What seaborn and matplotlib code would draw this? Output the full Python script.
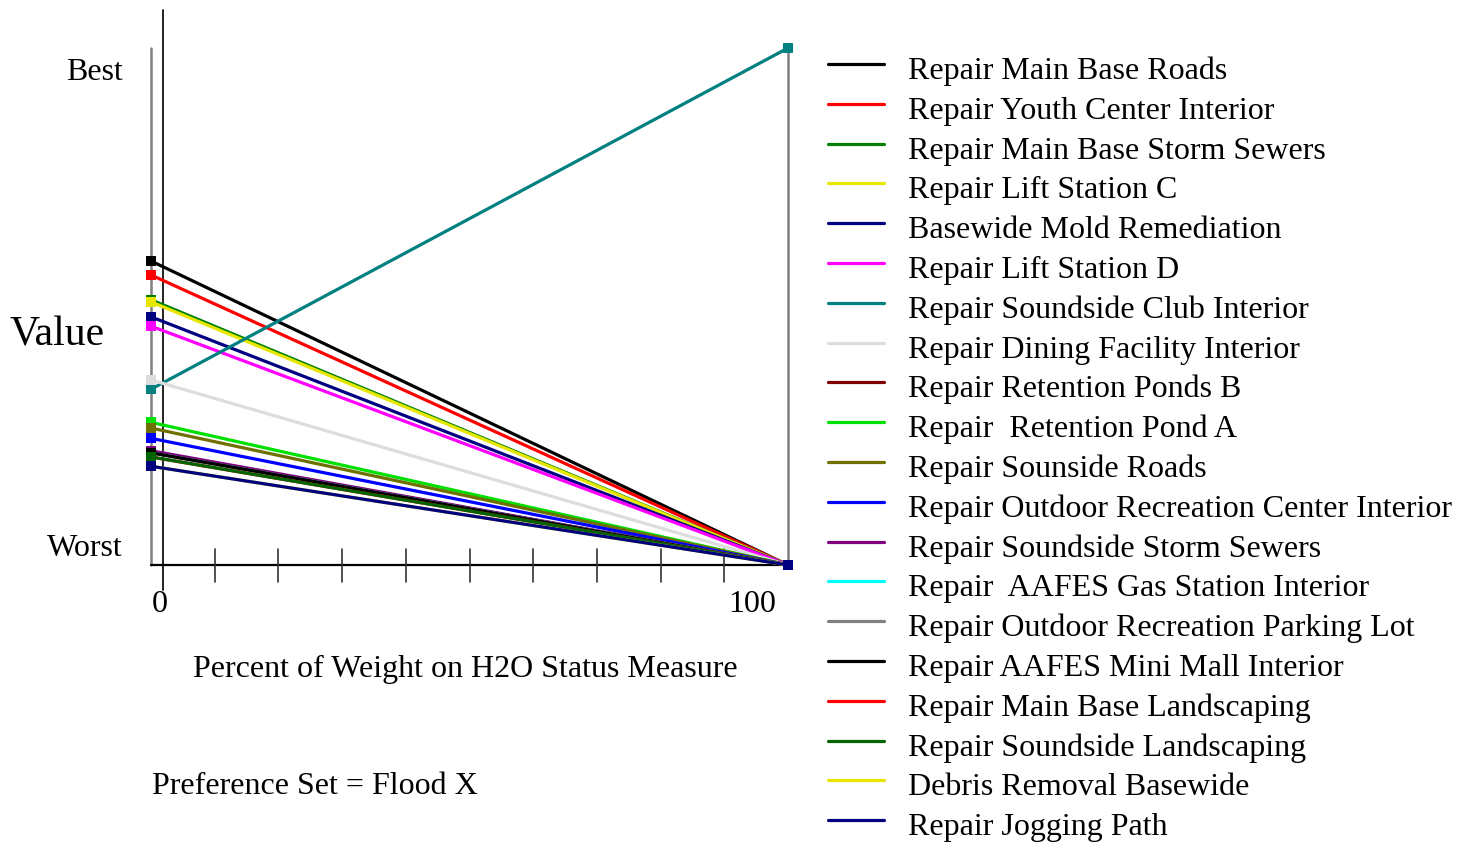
import matplotlib
matplotlib.use("Agg")
import matplotlib.pyplot as plt
from matplotlib.lines import Line2D
import seaborn as sns
import pandas as pd

# ---------------- data ----------------
alternatives = [
    "Repair Main Base Roads",
    "Repair Youth Center Interior",
    "Repair Main Base Storm Sewers",
    "Repair Lift Station C",
    "Basewide Mold Remediation",
    "Repair Lift Station D",
    "Repair Soundside Club Interior",
    "Repair Dining Facility Interior",
    "Repair Retention Ponds B",
    "Repair  Retention Pond A",
    "Repair Sounside Roads",
    "Repair Outdoor Recreation Center Interior",
    "Repair Soundside Storm Sewers",
    "Repair  AAFES Gas Station Interior",
    "Repair Outdoor Recreation Parking Lot",
    "Repair AAFES Mini Mall Interior",
    "Repair Main Base Landscaping",
    "Repair Soundside Landscaping",
    "Debris Removal Basewide",
    "Repair Jogging Path",
]
colors = [
    "#000000", "#FF0000", "#008000", "#E6E600", "#000080",
    "#FF00FF", "#008080", "#DDDDDD", "#800000", "#00E000",
    "#707000", "#0000FF", "#800080", "#00FFFF", "#808080",
    "#000000", "#FF0000", "#006400", "#E6E600", "#000080",
]
# value at 0% weight on H2O Status Measure
value_at_0 = [58.8, 56.1, 51.3, 50.9, 48.0, 46.2, 34.0, 35.8, 21.9, 27.6,
              26.5, 24.5, 22.1, 21.7, 21.7, 21.7, 20.9, 20.9, 19.1, 19.1]
# value at 100% weight on H2O Status Measure
value_at_100 = [0, 0, 0, 0, 0, 0, 100, 0, 0, 0,
                0, 0, 0, 0, 0, 0, 0, 0, 0, 0]
weights = [0, 100]
x_ticks = [10, 20, 30, 40, 50, 60, 70, 80, 90]
x_tick_labels = ["0", "100"]

rows = []
for name, v0, v1 in zip(alternatives, value_at_0, value_at_100):
    rows.append({"alt": name, "weight": weights[0], "value": v0})
    rows.append({"alt": name, "weight": weights[1], "value": v1})
df = pd.DataFrame(rows)

# ---------------- style ----------------
sns.set_style("white")
plt.rcParams["font.family"] = ["Liberation Serif", "DejaVu Serif"]
plt.rcParams["text.color"] = "black"

W, H = 1472, 843
fig = plt.figure(figsize=(W / 100, H / 100), dpi=100)

def fx(px):
    return px / W

def fy(py):
    return 1 - py / H

x0, x1, ytop, ybot = 151, 788, 48, 565
ax = fig.add_axes([fx(x0), fy(ybot), fx(x1) - fx(x0), fy(ytop) - fy(ybot)])
ax.set_xlim(0, 100)
ax.set_ylim(0, 100)
ax.axis("off")

# frame lines
ax.plot([0, 0], [0, 100], color="#808080", lw=1.8, clip_on=False, zorder=1)
ax.plot([100, 100], [0, 100], color="#808080", lw=1.8, clip_on=False, zorder=1)
ax.plot([1.85, 1.85], [107.3, -4.8], color="#222222", lw=1.4, clip_on=False, zorder=1)
ax.plot([0, 100], [0, 0], color="black", lw=1.6, clip_on=False, zorder=1)
for t in x_ticks:
    ax.plot([t, t], [3.1, -3.3], color="#333333", lw=1.2, clip_on=False, zorder=1)

sns.lineplot(data=df, x="weight", y="value", hue="alt", hue_order=alternatives,
             palette=colors, marker="s", markersize=6.5, markeredgewidth=0,
             linewidth=2.3, sort=False, errorbar=None, legend=False, ax=ax)
for ln in ax.get_lines():
    ln.set_clip_on(False)
ax.set_xlim(0, 100)
ax.set_ylim(0, 100)
ax.axis("off")

FS = 23
D = 4  # vertical correction for centred text
# tick labels
fig.text(fx(160), fy(600 + D), x_tick_labels[0], fontsize=FS, ha="center", va="center")
fig.text(fx(752), fy(600 + D), x_tick_labels[1], fontsize=FS, ha="center", va="center")
# y annotations
fig.text(fx(123), fy(69 + D), "Best", fontsize=FS, ha="right", va="center")
fig.text(fx(123), fy(545 + D), "Worst", fontsize=FS, ha="right", va="center")
fig.text(fx(10), fy(331 + D), "Value", fontsize=30, ha="left", va="center")
fig.text(fx(465), fy(665 + D), "Percent of Weight on H2O Status Measure", fontsize=FS,
         ha="center", va="center")
fig.text(fx(152), fy(783 + D), "Preference Set = Flood X", fontsize=FS,
         ha="left", va="center")

# legend (manual)
for i, (name, c) in enumerate(zip(alternatives, colors)):
    ly = 64 + i * 39.8
    fig.add_artist(Line2D([fx(828), fx(884)], [fy(ly), fy(ly)], color=c, lw=2.3,
                          transform=fig.transFigure))
    fig.text(fx(908), fy(ly + 15), name, fontsize=FS, ha="left", va="baseline")

fig.savefig("out.png", dpi=100)
